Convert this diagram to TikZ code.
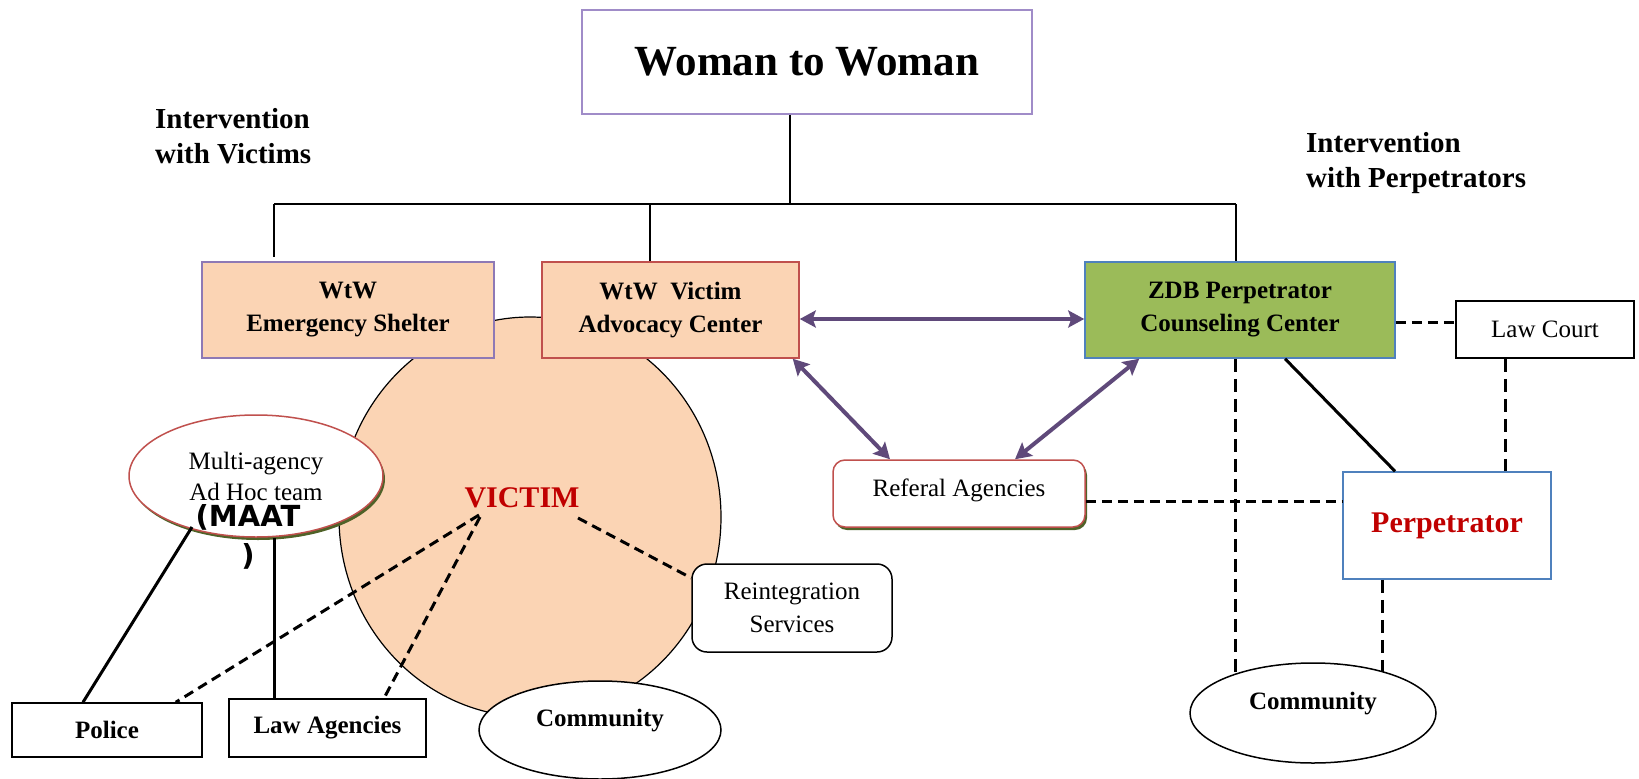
\documentclass[tikz,border=0pt]{standalone}
\usepackage{fontspec}
\setmainfont{Liberation Serif}
\newfontfamily\maatfont{DejaVu Sans}
\usetikzlibrary{shapes.geometric,arrows.meta,shadows}
\definecolor{peach}{HTML}{FBD4B4}
\definecolor{zdbgreen}{HTML}{9BBB59}
\definecolor{accblue}{HTML}{4F81BD}
\definecolor{accred}{HTML}{C0504D}
\definecolor{accpurple}{HTML}{8E79B5}
\definecolor{lightpurple}{HTML}{A08CC8}
\definecolor{arrowpurple}{HTML}{5F497A}
\definecolor{textred}{HTML}{C00000}
\definecolor{shadowgreen}{HTML}{4F6228}
\tikzset{
  thinline/.style={line width=1.5pt},
  dline/.style={line width=3pt, dash pattern=on 10pt off 6pt},
  vdline/.style={line width=3pt, dash pattern=on 13pt off 7pt},
  sline/.style={line width=3pt},
  tipS/.tip={Stealth[length=16pt,width=17pt,inset=3pt]},
  parrow/.style={line width=4pt, draw=arrowpurple, tipS-tipS},
  box/.style={rectangle, draw, line width=1.5pt, align=center, inner sep=0pt,
    font=\fontsize{25}{33}\selectfont\bfseries},
  rbox/.style={rectangle, draw, line width=1.5pt, align=center, inner sep=0pt,
    font=\fontsize{25}{33}\selectfont},
  ell/.style={ellipse, draw, line width=1.5pt, fill=white, inner sep=0pt, align=center},
  heading/.style={align=left, inner sep=0pt, font=\fontsize{29}{35}\selectfont\bfseries},
  redtext/.style={inner sep=0pt, text=textred, font=\fontsize{30}{36}\selectfont\bfseries},
}
\begin{document}
\begin{tikzpicture}[x=1pt,y=-1pt]
\useasboundingbox[fill=white] (0,0) rectangle (1639,779);

% big victim circle
\node[ellipse, draw, line width=1.2pt, fill=peach, minimum width=382pt, minimum height=400pt, inner sep=0pt] (vcircle) at (530,517) {};

% headings
\node[heading, anchor=west] (hv) at (155,136.5) {Intervention\\with Victims};
\node[heading, anchor=west] (hp) at (1306,163) {Intervention\\with Perpetrators};

% top box
\node[box, draw=lightpurple, minimum width=450pt, minimum height=104pt,
      font=\fontsize{43}{50}\selectfont\bfseries] (woman) at (807,62) {Woman to Woman};

% bus
\coordinate (j0) at (790,204);
\coordinate (b1) at (274,204);
\coordinate (b2) at (650,204);
\coordinate (b3) at (1236,204);

% boxes
\node[box, fill=peach, draw=accpurple, minimum width=292pt, minimum height=96pt] (shelter) at (348,310) {WtW\\Emergency Shelter};
\node[box, fill=peach, draw=accred, minimum width=257pt, minimum height=96pt] (vac) at (670.5,310) {WtW\ \ Victim\\Advocacy Center};
\node[box, fill=zdbgreen, draw=accblue, minimum width=310pt, minimum height=96pt] (zdb) at (1240,310) {ZDB Perpetrator\\Counseling Center};
\node[rbox, minimum width=178pt, minimum height=57pt] (lawcourt) at (1545,329.5) {Law Court};
\node[box, draw=accblue, fill=white, minimum width=208pt, minimum height=107pt, text=textred,
      font=\fontsize{30}{36}\selectfont\bfseries] (perp) at (1447,525.5) {Perpetrator};
\node[rbox, draw=accred, fill=white, rounded corners=12pt, minimum width=252pt, minimum height=67pt,
      drop shadow={fill=shadowgreen, opacity=1, shadow xshift=2pt, shadow yshift=-3pt},
      text depth=12pt] (referal) at (959,493.5) {Referal Agencies};
\node[rbox, fill=white, rounded corners=15pt, minimum width=200pt, minimum height=88pt] (reint) at (792,608) {Reintegration\\Services};
\node[box, fill=white, minimum width=190pt, minimum height=54pt] (police) at (107,730) {Police};
\node[box, fill=white, minimum width=197pt, minimum height=58pt] (lawag) at (327.5,728) {Law Agencies};

% ellipses
\node[ell, draw=accred, minimum width=254pt, minimum height=122pt,
      drop shadow={fill=shadowgreen, opacity=1, shadow xshift=2pt, shadow yshift=-3pt},
      font=\fontsize{25}{31}\selectfont] (maat) at (256,476) {Multi-agency\\Ad Hoc team};
\node[inner sep=0pt, align=center, font=\maatfont\fontsize{29}{39}\selectfont\bfseries] (maattxt) at (248,537) {(MAAT\\)};
\node[ell, minimum width=242pt, minimum height=98pt, text depth=25pt,
      font=\fontsize{25}{30}\selectfont\bfseries] (commL) at (600,730) {Community};
\node[ell, minimum width=246pt, minimum height=100pt, text depth=25pt,
      font=\fontsize{25}{30}\selectfont\bfseries] (commR) at (1313,713) {Community};

\node[redtext] (victim) at (522,498) {VICTIM};

% bus lines
\draw[thinline] (woman.south -| j0) -- (j0);
\draw[thinline] (b1) -- (b3);
\draw[thinline] (b1) -- ([yshift=4pt]b1 |- shelter.north);
\draw[thinline] (b2) -- (b2 |- vac.north);
\draw[thinline] (b3) -- (b3 |- zdb.north);

% purple arrows
\draw[parrow] ([yshift=-9pt]vac.east) -- ([yshift=-9pt]zdb.west);
\draw[parrow] ([xshift=-7pt]vac.south east) -- ([xshift=-69pt]referal.north);
\draw[parrow] ([xshift=55pt]zdb.south west) -- ([xshift=56pt]referal.north);

% perpetrator side
\draw[dline] ([yshift=-12pt]zdb.east) -- ([yshift=7.5pt]lawcourt.west);
\draw[sline] ([xshift=45pt]zdb.south) -- ([xshift=-52pt]perp.north);
\draw[vdline] ([xshift=-40pt]lawcourt.south) -- ([xshift=58pt]perp.north);
\draw[dline] ([yshift=-7.5pt]referal.east) -- ([yshift=24.5pt]perp.west);
\draw[vdline] ([xshift=-5pt]zdb.south) -- ([xshift=-78pt,yshift=39pt]commR.center);
\draw[vdline] ([xshift=-65pt]perp.south) -- ([xshift=69pt,yshift=41pt]commR.center);

% victim side
\draw[sline] ([xshift=-64pt,yshift=-51pt]maat.center) -- ([xshift=-24pt]police.north);
\draw[sline] ([xshift=18pt]maat.south) -- ([xshift=-53.5pt]lawag.north);
\draw[dline] ([xshift=-43pt,yshift=-17pt]victim.center) -- ([xshift=-27pt]police.north east);
\draw[dline] ([xshift=-42pt,yshift=-19pt]victim.center) -- ([xshift=56.5pt]lawag.north);
\draw[dline] ([xshift=56pt,yshift=-20pt]victim.center) -- ([yshift=30pt]reint.west);
\end{tikzpicture}
\end{document}
